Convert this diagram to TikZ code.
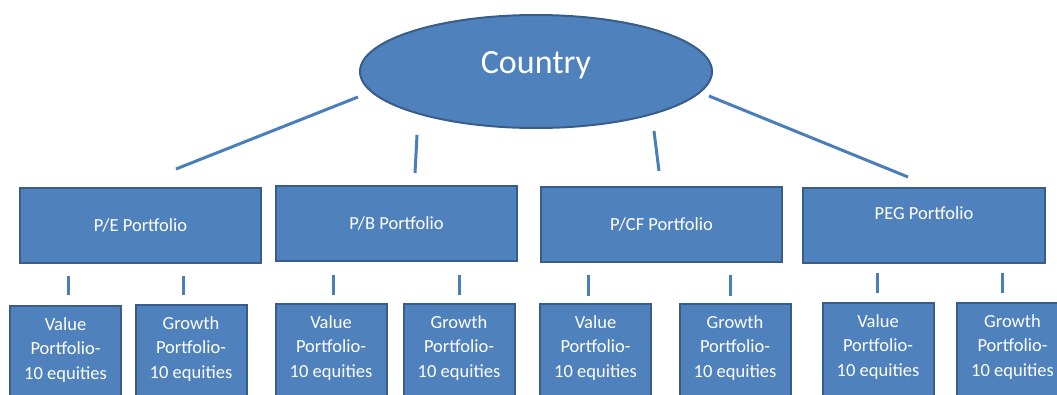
\documentclass[tikz,border=0pt]{standalone}
\usepackage{fontspec}
\setmainfont{Carlito}
\usetikzlibrary{shapes.geometric}
\definecolor{boxfill}{HTML}{4F81BD}
\definecolor{boxedge}{HTML}{385D8A}
\definecolor{linkcol}{HTML}{4A7EBB}
\newcommand{\lift}[2]{\raisebox{#1}[\height][\depth]{#2}}
\newcommand{\threelines}[3]{\lift{4pt}{\begin{tabular}{@{}c@{}}#1\\#2\\#3\end{tabular}}}
\tikzset{
  box/.style={draw=boxedge, fill=boxfill, line width=2pt, text=white,
    inner sep=0pt, font=\fontsize{18.5}{24.5}\selectfont},
  groupbox/.style={box, minimum height=75pt},
  leafbox/.style={box, minimum width=111pt, minimum height=96pt},
  root/.style={ellipse, draw=boxedge, fill=boxfill, line width=2pt, text=white,
    minimum width=352pt, minimum height=113pt, inner sep=0pt,
    font=\fontsize{34}{40}\selectfont},
  link/.style={draw=linkcol, line width=3pt}
}
\begin{document}
\begin{tikzpicture}[x=1pt,y=-1pt]
\useasboundingbox (0,0) rectangle (1057,394);

% top level
\node[root] (country) at (536,71.5) {\lift{6pt}{Country}};

% ratio portfolios
\node[groupbox, minimum width=241pt] (pe)  at (140.5,225) {P/E Portfolio};
\node[groupbox, minimum width=241pt] (pb)  at (396.5,223) {P/B Portfolio};
\node[groupbox, minimum width=241pt] (pcf) at (661.5,224) {P/CF Portfolio};
\node[groupbox, minimum width=242pt] (peg) at (924,225) {\lift{12pt}{PEG Portfolio}};

% value / growth sub-portfolios
\node[leafbox] (peV)  at (65.5,354)  {\threelines{Value}{Portfolio-}{10 equities}};
\node[leafbox] (peG)  at (191,353)   {\threelines{Growth}{Portfolio-}{10 equities}};
\node[leafbox] (pbV)  at (331,352)   {\threelines{Value}{Portfolio-}{10 equities}};
\node[leafbox] (pbG)  at (459,352)   {\threelines{Growth}{Portfolio-}{10 equities}};
\node[leafbox] (pcfV) at (595.5,352) {\threelines{Value}{Portfolio-}{10 equities}};
\node[leafbox] (pcfG) at (735,352)   {\threelines{Growth}{Portfolio-}{10 equities}};
\node[leafbox] (pegV) at (878,351)   {\threelines{Value}{Portfolio-}{10 equities}};
\node[leafbox] (pegG) at (1012.5,351){\threelines{Growth}{Portfolio-}{10 equities}};

% free-standing connector ends
\coordinate (c1a) at (358,97);  \coordinate (c1b) at (176,169);
\coordinate (c2a) at (417,135); \coordinate (c2b) at (415,173);
\coordinate (c3a) at (654,131); \coordinate (c3b) at (659,171);
\coordinate (c4a) at (709,96);  \coordinate (c4b) at (908,177);

\coordinate (e1a) at (68,276);   \coordinate (e1b) at (68,295);
\coordinate (e2a) at (183,276);  \coordinate (e2b) at (183,295);
\coordinate (b1a) at (333,275);  \coordinate (b1b) at (333,295);
\coordinate (b2a) at (459,275);  \coordinate (b2b) at (459,295);
\coordinate (f1a) at (588,275);  \coordinate (f1b) at (588,296);
\coordinate (f2a) at (730,275);  \coordinate (f2b) at (730,296);
\coordinate (g1a) at (877,273);  \coordinate (g1b) at (877,293);
\coordinate (g2a) at (1002,273); \coordinate (g2b) at (1002,293);

\foreach \s in {c1,c2,c3,c4,e1,e2,b1,b2,f1,f2,g1,g2}
  \draw[link] (\s a) -- (\s b);
\end{tikzpicture}
\end{document}
